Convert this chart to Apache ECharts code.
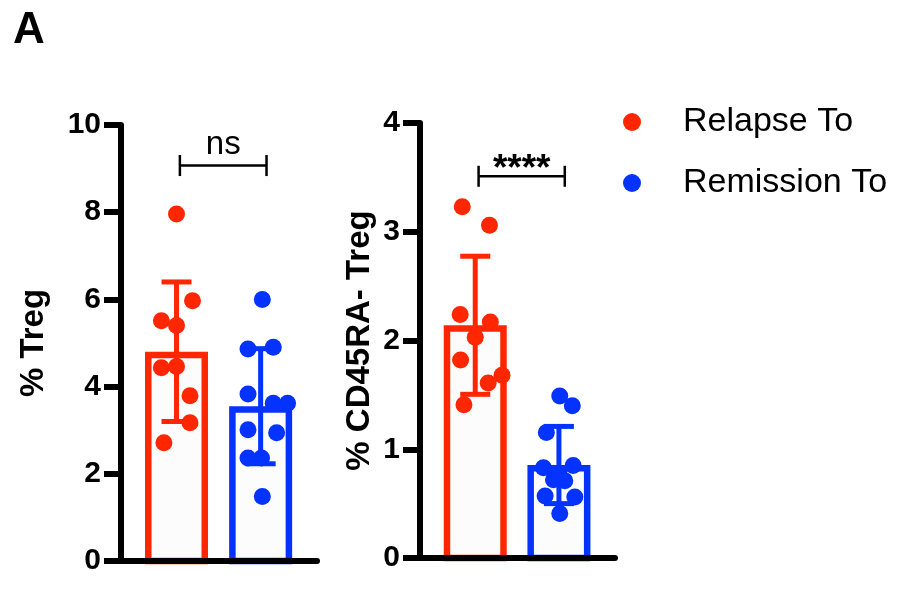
<!DOCTYPE html>
<html>
<head>
<meta charset="utf-8">
<title>Treg frequencies</title>
<script src="https://cdn.jsdelivr.net/npm/echarts@6/dist/echarts.min.js"></script>
<style>
  html, body { margin: 0; padding: 0; background: #fff; }
  #chart { width: 903px; height: 594px; }
</style>
</head>
<body>
<div id="chart"></div>
<script>
// ---- data ----
const groups = ['Relapse To', 'Remission To'];

// % Treg, individual subjects
const tregRelapse   = [7.96, 5.97, 5.51, 5.40, 4.43, 4.46, 3.79, 3.17, 2.71];
const tregRemission = [6.00, 4.86, 4.90, 3.83, 3.62, 3.62, 3.01, 2.94, 2.36, 2.36, 1.48];
// % CD45RA- Treg, individual subjects
const cd45Relapse   = [3.23, 3.06, 2.24, 2.17, 2.03, 1.82, 1.68, 1.61, 1.41];
const cd45Remission = [1.49, 1.40, 1.155, 0.83, 0.85, 0.77, 0.72, 0.71, 0.57, 0.56, 0.41];

// bar height (mean) and error bar (SD) per group
const tregMean = [4.80, 3.55];
const tregSD   = [1.60, 1.32];
const cd45Mean = [2.14, 0.855];
const cd45SD   = [0.635, 0.355];

// significance annotations
const sigLabels  = ['ns', '****'];
const sigHeights = [9.07, 3.51];

// axis ticks
const tregTicks = [0, 2, 4, 6, 8, 10];
const cd45Ticks = [0, 1, 2, 3, 4];

// horizontal scatter of the dots inside each column (axis units)
const tregRelapseJitter   = [0, 0.19, -0.18, 0, -0.18, 0, 0.16, 0.16, -0.15];
const tregRemissionJitter = [0.02, -0.15, 0.15, -0.15, 0.15, 0.32, -0.15, 0.19, -0.15, 0.01, 0.02];
const cd45RelapseJitter   = [-0.155, 0.17, -0.18, 0.18, 0, -0.175, 0.32, 0.155, -0.135];
const cd45RemissionJitter = [0.01, 0.16, -0.15, -0.185, 0.17, 0, -0.065, 0.07, -0.165, 0.19, 0.01];

// ---- styling ----
const colors = ['#FF2600', '#0433FF'];
const FONT = '"Liberation Sans", Arial, Helvetica, sans-serif';
const BAR_W = 63, BAR_LW = 6.5, ERR_LW = 5, CAP_W = 30, DOT = 17;
const BRACKET_SPAN = [1.04, 2.07];
const sigTextStyle = {
  'ns':   { size: 33, weight: 'normal', lift: 21 },
  '****': { size: 37, weight: 'bold',   lift: 6 }
};

const chart = echarts.init(document.getElementById('chart'), null, { renderer: 'canvas' });

function pos(i) { return i + 1; }

function points(values, jitter, gi) {
  return values.map((v, k) => [pos(gi) + jitter[k], v]);
}

function barData(means, sds) {
  return means.map((m, i) => [pos(i), m, sds[i], i]);
}

function renderBar(params, api) {
  const x = api.value(0), mean = api.value(1), sd = api.value(2);
  const color = colors[api.value(3)];
  const pTop = api.coord([x, mean]);
  const pBase = api.coord([x, 0]);
  const pHi = api.coord([x, mean + sd]);
  const pLo = api.coord([x, mean - sd]);
  const h = BAR_LW / 2;
  return {
    type: 'group',
    children: [
      {
        type: 'rect',
        shape: { x: pTop[0] - BAR_W / 2 + h, y: pTop[1] + h, width: BAR_W - BAR_LW, height: pBase[1] - pTop[1] - h },
        style: { fill: '#fcfcfc', stroke: color, lineWidth: BAR_LW }
      },
      {
        type: 'line',
        shape: { x1: pHi[0], y1: pHi[1], x2: pLo[0], y2: pLo[1] },
        style: { stroke: color, lineWidth: ERR_LW }
      },
      {
        type: 'line',
        shape: { x1: pHi[0] - CAP_W / 2, y1: pHi[1], x2: pHi[0] + CAP_W / 2, y2: pHi[1] },
        style: { stroke: color, lineWidth: ERR_LW }
      },
      {
        type: 'line',
        shape: { x1: pLo[0] - CAP_W / 2, y1: pLo[1], x2: pLo[0] + CAP_W / 2, y2: pLo[1] },
        style: { stroke: color, lineWidth: ERR_LW }
      }
    ]
  };
}

function renderBracket(params, api) {
  const label = sigLabels[api.value(3)];
  const a = api.coord([api.value(0), api.value(2)]);
  const b = api.coord([api.value(1), api.value(2)]);
  const st = sigTextStyle[label];
  const tick = 10.5;
  return {
    type: 'group',
    children: [
      { type: 'line', shape: { x1: a[0], y1: a[1], x2: b[0], y2: b[1] }, style: { stroke: '#000', lineWidth: 2.5 } },
      { type: 'line', shape: { x1: a[0], y1: a[1] - tick, x2: a[0], y2: a[1] + tick }, style: { stroke: '#000', lineWidth: 2.5 } },
      { type: 'line', shape: { x1: b[0], y1: b[1] - tick, x2: b[0], y2: b[1] + tick }, style: { stroke: '#000', lineWidth: 2.5 } },
      {
        type: 'text',
        style: {
          text: label, x: (a[0] + b[0]) / 2, y: a[1] - st.lift,
          align: 'center', verticalAlign: 'middle', fill: '#000',
          font: st.weight + ' ' + st.size + 'px ' + FONT
        }
      }
    ]
  };
}

function yAxis(gridIndex, ticks, name, nameGap) {
  return {
    type: 'value', gridIndex,
    min: ticks[0], max: ticks[ticks.length - 1], interval: ticks[1] - ticks[0],
    name, nameLocation: 'middle', nameGap,
    nameTextStyle: { fontFamily: FONT, fontWeight: 'bold', fontSize: 33, color: '#000' },
    axisLine: { show: true, lineStyle: { color: '#000', width: 6 } },
    axisTick: { show: true, length: 17, lineStyle: { color: '#000', width: 6 } },
    axisLabel: { margin: 20, fontFamily: FONT, fontWeight: 'bold', fontSize: 30, color: '#000' },
    splitLine: { show: false },
    z: 5
  };
}

function xAxis(gridIndex) {
  return {
    type: 'value', gridIndex, min: 0.34, max: 2.67,
    axisLine: { show: true, onZero: false, lineStyle: { color: '#000', width: 6 } },
    axisTick: { show: false }, axisLabel: { show: false }, splitLine: { show: false },
    z: 5
  };
}

const option = {
  animation: false,
  backgroundColor: '#fff',
  textStyle: { fontFamily: FONT },
  graphic: [{
    type: 'text', left: 13, top: 9,
    style: { text: 'A', font: 'bold 44px ' + FONT, fill: '#000' }
  }],
  legend: {
    orient: 'vertical', left: 623, top: 102, padding: 0,
    itemWidth: 18, itemHeight: 18, itemGap: 21, icon: 'circle',
    selectedMode: false,
    data: groups,
    textStyle: { fontFamily: FONT, fontSize: 34, color: '#000', lineHeight: 40, padding: [0, 0, 0, 37] }
  },
  grid: [
    { left: 121, top: 125, width: 196, height: 436 },
    { left: 420, top: 123, width: 195, height: 435 }
  ],
  xAxis: [xAxis(0), xAxis(1)],
  yAxis: [
    yAxis(0, tregTicks, '% Treg', 71),
    yAxis(1, cd45Ticks, '% CD45RA- Treg', 44)
  ],
  series: [
    { type: 'custom', name: 'bars-treg', xAxisIndex: 0, yAxisIndex: 0, data: barData(tregMean, tregSD), renderItem: renderBar, z: 2, silent: true },
    { type: 'custom', name: 'bars-cd45', xAxisIndex: 1, yAxisIndex: 1, data: barData(cd45Mean, cd45SD), renderItem: renderBar, z: 2, silent: true },
    { type: 'scatter', name: groups[0], xAxisIndex: 0, yAxisIndex: 0, symbolSize: DOT, itemStyle: { color: colors[0], opacity: 1 }, data: points(tregRelapse, tregRelapseJitter, 0), z: 3 },
    { type: 'scatter', name: groups[1], xAxisIndex: 0, yAxisIndex: 0, symbolSize: DOT, itemStyle: { color: colors[1], opacity: 1 }, data: points(tregRemission, tregRemissionJitter, 1), z: 3 },
    { type: 'scatter', name: groups[0], xAxisIndex: 1, yAxisIndex: 1, symbolSize: DOT, itemStyle: { color: colors[0], opacity: 1 }, data: points(cd45Relapse, cd45RelapseJitter, 0), z: 3 },
    { type: 'scatter', name: groups[1], xAxisIndex: 1, yAxisIndex: 1, symbolSize: DOT, itemStyle: { color: colors[1], opacity: 1 }, data: points(cd45Remission, cd45RemissionJitter, 1), z: 3 },
    { type: 'custom', name: 'sig-treg', xAxisIndex: 0, yAxisIndex: 0, data: [[BRACKET_SPAN[0], BRACKET_SPAN[1], sigHeights[0], 0]], renderItem: renderBracket, z: 4, silent: true },
    { type: 'custom', name: 'sig-cd45', xAxisIndex: 1, yAxisIndex: 1, data: [[BRACKET_SPAN[0], BRACKET_SPAN[1], sigHeights[1], 1]], renderItem: renderBracket, z: 4, silent: true }
  ]
};

chart.setOption(option);
</script>
</body>
</html>
